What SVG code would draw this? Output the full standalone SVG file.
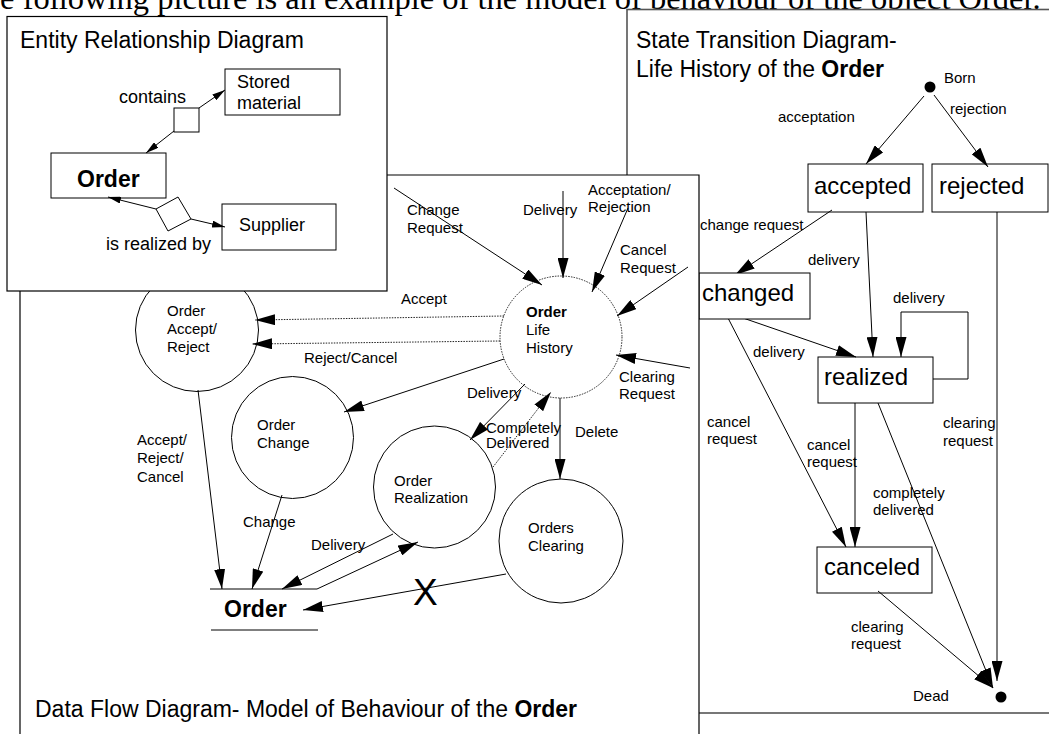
<svg xmlns="http://www.w3.org/2000/svg" width="1049" height="734" viewBox="0 0 1049 734">
  <style>
    .frame { fill: #fff; stroke: #000; stroke-width: 1.2; }
    .box { fill: #fff; stroke: #000; stroke-width: 1; }
    .bub { fill: #fff; stroke: #000; stroke-width: 1; }
    .ln { fill: none; stroke: #000; stroke-width: 1; }
    .dot { fill: none; stroke: #222; stroke-width: 1; stroke-dasharray: 1.5 1.2; }
    text { font-family: "Liberation Sans", Arial, sans-serif; fill: #000; }
    .t15 { font-size: 15px; }
    .t18 { font-size: 18px; }
    .t23 { font-size: 23px; }
    .st { font-size: 24px; }
    .b { font-weight: bold; }
  </style>
  <defs>
    <marker id="ah" markerUnits="userSpaceOnUse" markerWidth="20" markerHeight="11" refX="20" refY="5.5" orient="auto">
      <path d="M0,0 L20,5.5 L0,11 z" fill="#000"/>
    </marker>
    <marker id="ahs" markerUnits="userSpaceOnUse" markerWidth="13" markerHeight="7" refX="13" refY="3.5" orient="auto">
      <path d="M0,0 L13,3.5 L0,7 z" fill="#000"/>
    </marker>
  </defs>

  <!-- page sentence, partly cut at the top edge -->
  <text x="-36" y="9" style="font-family:'Liberation Serif','Times New Roman',serif;font-size:32.5px">The following picture is an example of the model of behaviour of the object Order.</text>

  <!-- ===== State transition diagram ===== -->
  <g id="std">
    <rect x="627" y="9.5" width="460" height="703.5" fill="#fff" stroke="#555" stroke-width="1.6"/>
    <text class="t23" x="636" y="48">State Transition Diagram-</text>
    <text class="t23" x="636" y="77">Life History of the <tspan class="b">Order</tspan></text>

    <g id="born"><circle cx="930" cy="87" r="5.5" fill="#000"/><text class="t15" x="944" y="83">Born</text></g>
    <g id="accepted"><rect class="box" x="808" y="164" width="115" height="48"/><text class="st" x="814" y="194">accepted</text></g>
    <g id="rejected"><rect class="box" x="932" y="164" width="116" height="48"/><text class="st" x="939" y="194">rejected</text></g>
    <g id="realized"><rect class="box" x="818" y="357" width="115" height="46"/><text class="st" x="824" y="385">realized</text></g>
    <g id="canceled"><rect class="box" x="817" y="547" width="115" height="46"/><text class="st" x="824" y="575">canceled</text></g>
    <g id="dead"><circle cx="1001" cy="697" r="5.5" fill="#000"/><text class="t15" x="913" y="701">Dead</text></g>

    <g id="std-connectors">
      <line class="ln" x1="924" y1="96" x2="866" y2="164" marker-end="url(#ah)"/>
      <line class="ln" x1="934" y1="95" x2="988" y2="167" marker-end="url(#ah)"/>
      <line class="ln" x1="832" y1="210" x2="735" y2="275" marker-end="url(#ah)"/>
      <line class="ln" x1="866" y1="212" x2="873" y2="357" marker-end="url(#ah)"/>
      <line class="ln" x1="743" y1="318" x2="856" y2="357" marker-end="url(#ah)"/>
      <polyline class="ln" points="933,379 968,379 968,312 901,312 901,357" marker-end="url(#ah)"/>
      <line class="ln" x1="728" y1="318" x2="846" y2="547" marker-end="url(#ah)"/>
      <line class="ln" x1="855" y1="403" x2="855" y2="547" marker-end="url(#ah)"/>
      <line class="ln" x1="878" y1="403" x2="993" y2="688" marker-end="url(#ah)"/>
      <line class="ln" x1="878" y1="591" x2="993" y2="688" marker-end="url(#ah)"/>
      <line class="ln" x1="997" y1="212" x2="997" y2="681" marker-end="url(#ah)"/>
    </g>
    <g id="std-labels" class="t15">
      <text x="778" y="122">acceptation</text>
      <text x="950" y="114">rejection</text>
      <text x="700" y="230">change request</text>
      <text x="808" y="265">delivery</text>
      <text x="893" y="303">delivery</text>
      <text x="753" y="357">delivery</text>
      <text x="707" y="427">cancel</text>
      <text x="707" y="444">request</text>
      <text x="807" y="450">cancel</text>
      <text x="807" y="467">request</text>
      <text x="943" y="428">clearing</text>
      <text x="943" y="446">request</text>
      <text x="873" y="498">completely</text>
      <text x="873" y="515">delivered</text>
      <text x="851" y="632">clearing</text>
      <text x="851" y="649">request</text>
    </g>
    <g id="changed"><rect class="box" x="699" y="273" width="111" height="46"/><text class="st" x="702" y="301">changed</text></g>
  </g>

  <!-- ===== Data flow diagram ===== -->
  <g id="dfd">
    <path class="frame" d="M20,760 L20,175 L699,175 L699,760"/>
    <text class="t23" x="35" y="717">Data Flow Diagram- Model of Behaviour of the <tspan class="b">Order</tspan></text>

    <g id="life-history">
      <circle cx="561" cy="337" r="61" fill="#fff" class="dot"/>
      <text class="t15 b" x="526" y="317">Order</text>
      <text class="t15" x="526" y="335">Life</text>
      <text class="t15" x="526" y="353">History</text>
    </g>
    <g id="accept-reject">
      <circle class="bub" cx="197" cy="330" r="61.5"/>
      <text class="t15" x="167" y="316">Order</text>
      <text class="t15" x="167" y="334">Accept/</text>
      <text class="t15" x="167" y="352">Reject</text>
    </g>
    <g id="order-change">
      <circle class="bub" cx="292.5" cy="437.5" r="61"/>
      <text class="t15" x="257" y="430">Order</text>
      <text class="t15" x="257" y="448">Change</text>
    </g>
    <g id="order-realization">
      <circle class="bub" cx="434.5" cy="487" r="61"/>
      <text class="t15" x="394" y="486">Order</text>
      <text class="t15" x="394" y="503">Realization</text>
    </g>
    <g id="orders-clearing">
      <circle class="bub" cx="561" cy="541" r="62"/>
      <text class="t15" x="528" y="533">Orders</text>
      <text class="t15" x="528" y="551">Clearing</text>
    </g>
    <g id="order-store">
      <line class="ln" x1="210" y1="589" x2="317" y2="589"/>
      <line class="ln" x1="211" y1="630" x2="318" y2="630"/>
      <text class="t23 b" x="224" y="617">Order</text>
    </g>

    <g id="dfd-connectors">
      <line class="ln" x1="394" y1="188" x2="542" y2="285" marker-end="url(#ah)"/>
      <line class="ln" x1="563" y1="191" x2="563" y2="278" marker-end="url(#ah)"/>
      <line class="ln" x1="628" y1="208" x2="592" y2="292" marker-end="url(#ah)"/>
      <line class="ln" x1="688" y1="267" x2="617" y2="316" marker-end="url(#ah)"/>
      <line class="ln" x1="690" y1="368" x2="616" y2="355" marker-end="url(#ah)"/>
      <line class="dot" x1="504" y1="316" x2="255" y2="320" marker-end="url(#ah)"/>
      <line class="dot" x1="500" y1="341" x2="252" y2="344" marker-end="url(#ah)"/>
      <line class="ln" x1="504" y1="359" x2="344" y2="412" marker-end="url(#ah)"/>
      <line class="ln" x1="525" y1="384" x2="470" y2="440" marker-end="url(#ah)"/>
      <line class="dot" x1="493" y1="467" x2="551" y2="392" marker-end="url(#ah)"/>
      <line class="ln" x1="560" y1="398" x2="560" y2="479" marker-end="url(#ah)"/>
      <line class="ln" x1="198" y1="390" x2="222" y2="589" marker-end="url(#ah)"/>
      <line class="ln" x1="282" y1="495" x2="252" y2="589" marker-end="url(#ah)"/>
      <line class="ln" x1="393" y1="534" x2="282" y2="589" marker-end="url(#ah)"/>
      <line class="ln" x1="317" y1="589" x2="418" y2="542" marker-end="url(#ah)"/>
      <line class="ln" x1="506" y1="574" x2="303" y2="610" marker-end="url(#ah)"/>
    </g>
    <g id="dfd-labels" class="t15">
      <text x="407" y="215">Change</text>
      <text x="407" y="233">Request</text>
      <text x="523" y="215">Delivery</text>
      <text x="588" y="195">Acceptation/</text>
      <text x="588" y="212">Rejection</text>
      <text x="620" y="255">Cancel</text>
      <text x="620" y="273">Request</text>
      <text x="619" y="382">Clearing</text>
      <text x="619" y="399">Request</text>
      <text x="401" y="304">Accept</text>
      <text x="304" y="363">Reject/Cancel</text>
      <text x="467" y="398">Delivery</text>
      <text x="486" y="433">Completely</text>
      <text x="486" y="448">Delivered</text>
      <text x="575" y="437">Delete</text>
      <text x="137" y="445">Accept/</text>
      <text x="137" y="463">Reject/</text>
      <text x="137" y="482">Cancel</text>
      <text x="243" y="527">Change</text>
      <text x="311" y="550">Delivery</text>
      <text x="413" y="605" style="font-size:37px">X</text>
    </g>
  </g>

  <!-- ===== Entity relationship diagram ===== -->
  <g id="erd">
    <rect class="frame" x="7" y="16.5" width="380" height="274.5"/>
    <text class="t23" x="20" y="48">Entity Relationship Diagram</text>
    <g id="er-order"><rect class="box" x="51" y="153" width="115" height="45"/><text class="t23 b" x="77" y="187">Order</text></g>
    <g id="er-stored"><rect class="box" x="225" y="69" width="115" height="46"/><text class="t18" x="237" y="88">Stored</text><text class="t18" x="237" y="109">material</text></g>
    <g id="er-supplier"><rect class="box" x="222" y="204" width="114" height="46"/><text class="t18" x="239" y="231">Supplier</text></g>
    <g id="er-contains"><rect class="box" x="174" y="108" width="25" height="24"/><text class="t18" x="119" y="103">contains</text></g>
    <g id="er-realized"><polygon class="box" points="178,197 191,219 168,231 156,209"/><text class="t18" x="106" y="250">is realized by</text></g>
    <g id="er-connectors">
      <line class="ln" x1="199" y1="108" x2="225" y2="90" marker-end="url(#ahs)"/>
      <line class="ln" x1="174" y1="131" x2="146" y2="153" marker-end="url(#ahs)"/>
      <line class="ln" x1="156" y1="209" x2="108" y2="197" marker-end="url(#ahs)"/>
      <line class="ln" x1="191" y1="219" x2="225" y2="227" marker-end="url(#ahs)"/>
    </g>
  </g>
</svg>
